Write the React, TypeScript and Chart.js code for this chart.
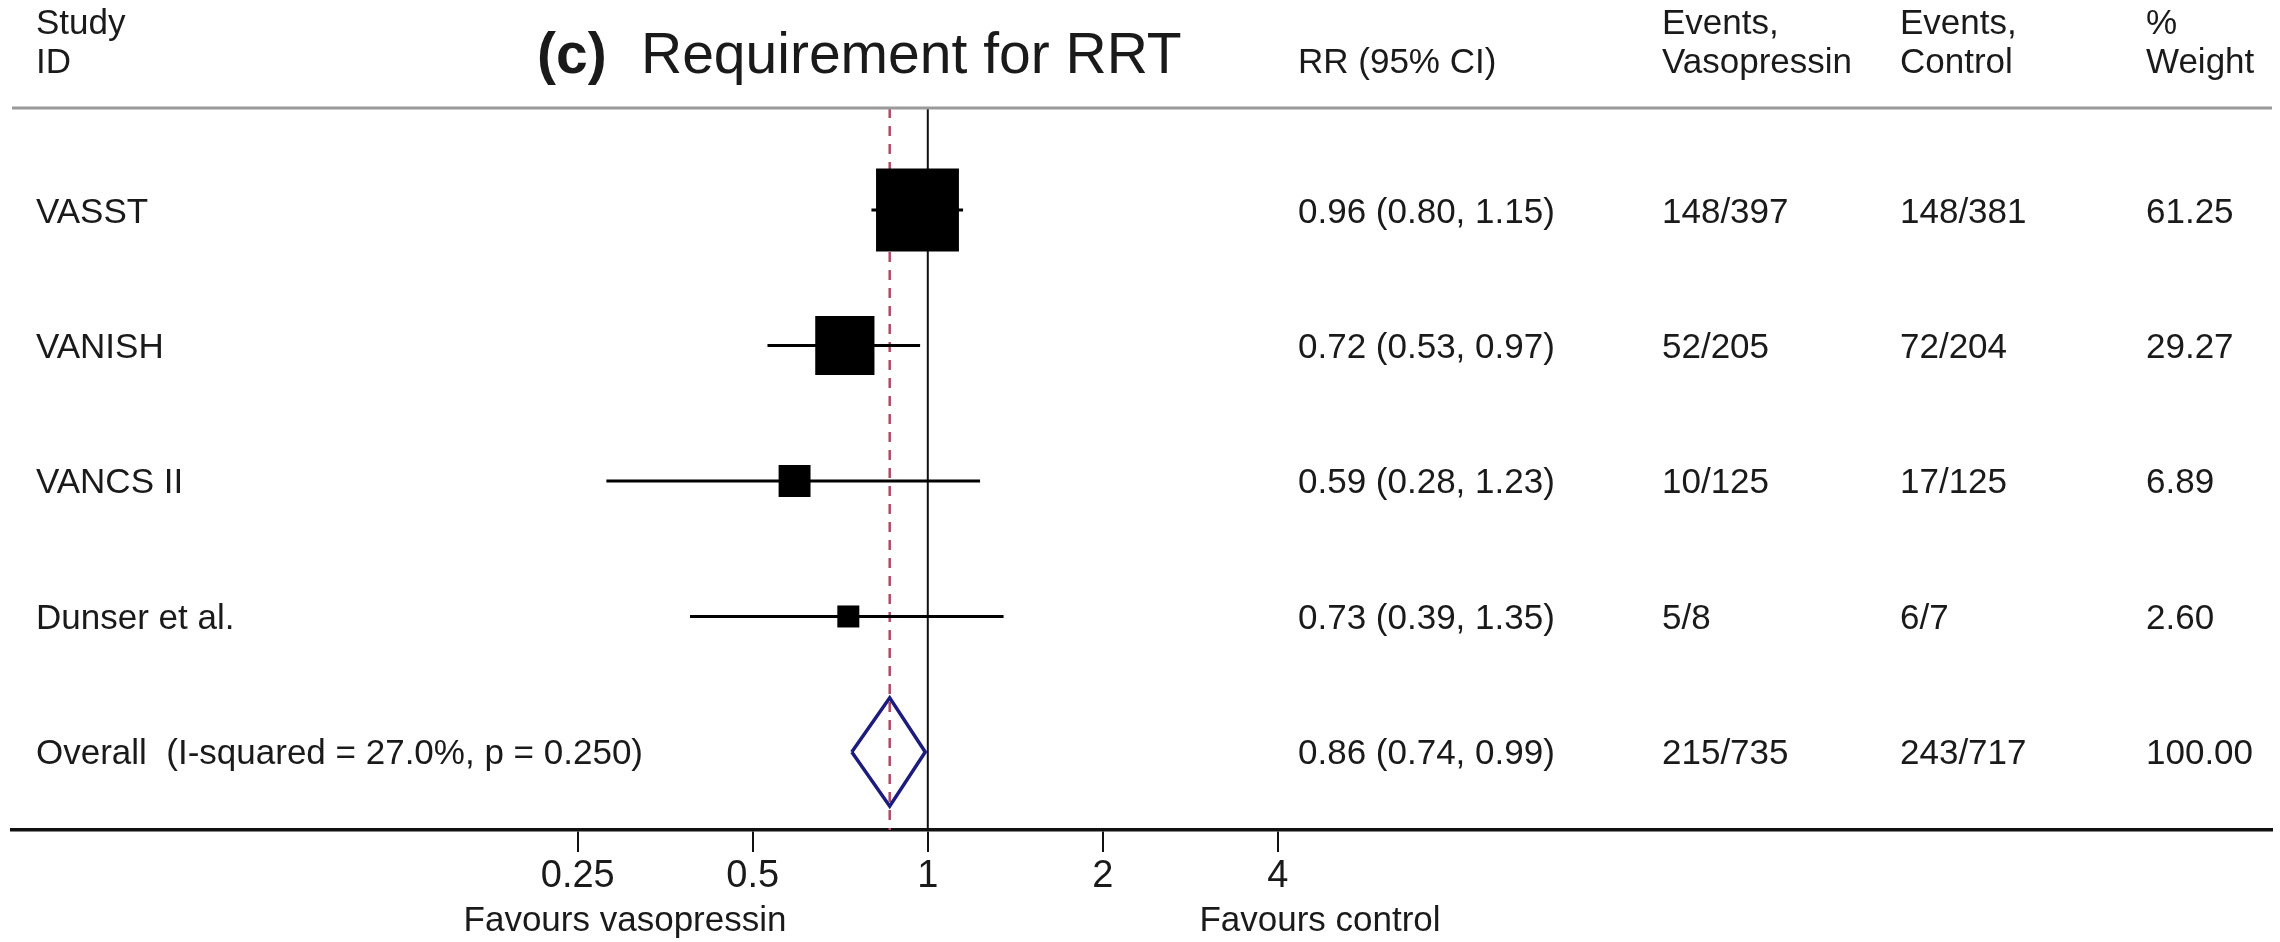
import React, { useEffect, useRef } from "react";
import { Chart, registerables } from "chart.js";

Chart.register(...registerables);

// ---- data ----
const studies = ["VASST", "VANISH", "VANCS II", "Dunser et al."];
const rr = [0.96, 0.72, 0.59, 0.73];
const ciLow = [0.8, 0.53, 0.28, 0.39];
const ciHigh = [1.15, 0.97, 1.23, 1.35];
const eventsVaso = ["148/397", "52/205", "10/125", "5/8"];
const eventsCtrl = ["148/381", "72/204", "17/125", "6/7"];
const weights = [61.25, 29.27, 6.89, 2.6];

const overallLabel = "Overall  (I-squared = 27.0%, p = 0.250)";
const overallRR = [0.86];
const overallLow = [0.74];
const overallHigh = [0.99];
const overallEventsVaso = ["215/735"];
const overallEventsCtrl = ["243/717"];
const overallWeight = [100.0];

const xTicks = [0.25, 0.5, 1, 2, 4];
const xTickLabels = ["0.25", "0.5", "1", "2", "4"];

const headerStudy = ["Study", "ID"];
const headerRR = ["", "RR (95% CI)"];
const headerVaso = ["Events,", "Vasopressin"];
const headerCtrl = ["Events,", "Control"];
const headerWeight = ["%", "Weight"];
const titleBold = "(c)";
const titleText = "Requirement for RRT";
const favoursLeft = "Favours vasopressin";
const favoursRight = "Favours control";

// ---- layout ----
const W = 2280;
const H = 942;
const FONT = "'Liberation Sans', Arial, Helvetica, sans-serif";
const TEXT = "#1a1a1a";
const Y_MIN = -0.753;
const Y_MAX = 4.576;
const X_MIN = 0.0266;
const X_MAX = 205.1;
const DIAMOND_H = 0.4;
const FS = 35;

const fmt = (v: number) => v.toFixed(2);
const boxRadius = (w: number) => (6.2 + 9.8 * Math.sqrt(w)) / (2 * Math.SQRT1_2);

const textPlugin = {
  id: "forestText",
  afterDraw(chart: any) {
    const { ctx, chartArea, scales } = chart;
    const ys = scales.y;
    ctx.save();
    // header line
    ctx.strokeStyle = "#9a9a9a";
    ctx.lineWidth = 3;
    ctx.beginPath();
    ctx.moveTo(chartArea.left, chartArea.top);
    ctx.lineTo(chartArea.right, chartArea.top);
    ctx.stroke();

    ctx.fillStyle = TEXT;
    ctx.textBaseline = "alphabetic";
    ctx.textAlign = "left";
    ctx.font = `${FS}px ${FONT}`;
    const colX = [36, 1298, 1662, 1900, 2146];
    const heads = [headerStudy, headerRR, headerVaso, headerCtrl, headerWeight];
    heads.forEach((h, i) => {
      ctx.fillText(h[0], colX[i], 34);
      ctx.fillText(h[1], colX[i], 73);
    });

    // title
    ctx.font = `bold 57px ${FONT}`;
    ctx.fillText(titleBold, 537, 73);
    ctx.font = `57px ${FONT}`;
    ctx.fillText(titleText, 641, 73);

    // rows
    ctx.font = `${FS}px ${FONT}`;
    const capOff = 12.5;
    studies.forEach((s, i) => {
      const y = ys.getPixelForValue(i) + capOff;
      ctx.fillText(s, colX[0], y);
      ctx.fillText(`${fmt(rr[i])} (${fmt(ciLow[i])}, ${fmt(ciHigh[i])})`, colX[1], y);
      ctx.fillText(eventsVaso[i], colX[2], y);
      ctx.fillText(eventsCtrl[i], colX[3], y);
      ctx.fillText(fmt(weights[i]), colX[4], y);
    });
    const oy = ys.getPixelForValue(studies.length) + capOff;
    ctx.fillText(overallLabel, colX[0], oy);
    ctx.fillText(`${fmt(overallRR[0])} (${fmt(overallLow[0])}, ${fmt(overallHigh[0])})`, colX[1], oy);
    ctx.fillText(overallEventsVaso[0], colX[2], oy);
    ctx.fillText(overallEventsCtrl[0], colX[3], oy);
    ctx.fillText(fmt(overallWeight[0]), colX[4], oy);

    // favours labels
    ctx.textAlign = "center";
    ctx.fillText(favoursLeft, 625, 931);
    ctx.fillText(favoursRight, 1320, 931);
    ctx.restore();
  },
};

export default function App() {
  const ref = useRef<HTMLCanvasElement | null>(null);

  useEffect(() => {
    document.body.style.margin = "0";
    const canvas = ref.current;
    if (!canvas) return;

    const n = studies.length;
    const datasets: any[] = [];

    // squares
    datasets.push({
      data: rr.map((v, i) => ({ x: v, y: i })),
      pointStyle: "rect",
      pointRadius: weights.map(boxRadius),
      pointHoverRadius: 0,
      pointBackgroundColor: "#000000",
      pointBorderWidth: 0,
      showLine: false,
      order: 0,
    });
    // diamond
    datasets.push({
      data: [
        { x: overallLow[0], y: n },
        { x: overallRR[0], y: n - DIAMOND_H },
        { x: overallHigh[0], y: n },
        { x: overallRR[0], y: n + DIAMOND_H },
        { x: overallLow[0], y: n },
      ],
      showLine: true,
      borderColor: "#1c1c7e",
      borderWidth: 3.5,
      pointRadius: 0,
      fill: false,
      tension: 0,
      order: 1,
    });
    // CI lines
    rr.forEach((_, i) => {
      datasets.push({
        data: [
          { x: ciLow[i], y: i },
          { x: ciHigh[i], y: i },
        ],
        showLine: true,
        borderColor: "#000000",
        borderWidth: 3,
        pointRadius: 0,
        order: 2,
      });
    });
    // overall dashed line
    datasets.push({
      data: [
        { x: overallRR[0], y: Y_MIN },
        { x: overallRR[0], y: Y_MAX },
      ],
      showLine: true,
      borderColor: "#b04a66",
      borderWidth: 2.5,
      borderDash: [10, 8],
      pointRadius: 0,
      order: 3,
    });
    // null line
    datasets.push({
      data: [
        { x: 1, y: Y_MIN },
        { x: 1, y: Y_MAX },
      ],
      showLine: true,
      borderColor: "#111111",
      borderWidth: 2,
      pointRadius: 0,
      order: 4,
    });

    const chart = new Chart(canvas, {
      type: "scatter",
      data: { datasets },
      options: {
        responsive: false,
        animation: false,
        devicePixelRatio: 1,
        layout: { autoPadding: false, padding: { left: 12, right: 8, top: 108, bottom: 0 } },
        plugins: { legend: { display: false }, tooltip: { enabled: false } },
        scales: {
          x: {
            type: "logarithmic",
            bounds: "data",
            min: X_MIN,
            max: X_MAX,
            afterBuildTicks: (scale: any) => {
              scale.ticks = xTicks.map((v) => ({ value: v }));
            },
            afterFit: (scale: any) => {
              scale.height = 112;
              scale.paddingLeft = 0;
              scale.paddingRight = 0;
            },
            ticks: {
              autoSkip: false,
              maxRotation: 0,
              padding: 2,
              color: TEXT,
              font: { family: FONT, size: 38 },
              callback: (v: any) => {
                const idx = xTicks.indexOf(Number(v));
                return idx >= 0 ? xTickLabels[idx] : "";
              },
            },
            grid: {
              display: true,
              drawOnChartArea: false,
              drawTicks: true,
              tickLength: 22,
              color: "#111111",
              lineWidth: 2,
            },
            border: { display: true, color: "#111111", width: 3.5 },
          },
          y: {
            type: "linear",
            reverse: true,
            min: Y_MIN,
            max: Y_MAX,
            display: false,
          },
        },
      },
      plugins: [textPlugin],
    } as any);

    return () => chart.destroy();
  }, []);

  return <canvas ref={ref} width={W} height={H} style={{ display: "block" }} />;
}
